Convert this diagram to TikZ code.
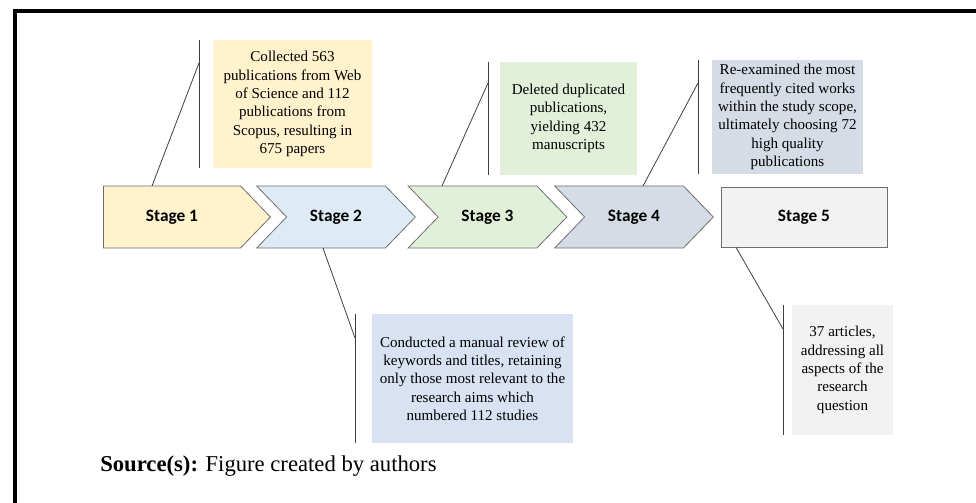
\documentclass[tikz,border=0pt]{standalone}
\usepackage{fontspec}
\setmainfont{Liberation Serif}
\newfontfamily\stagefont{Carlito}
\usepackage{tikz}
\usetikzlibrary{shapes.symbols,positioning}

\definecolor{yel}{HTML}{FFF2CC}
\definecolor{blu}{HTML}{DEEBF7}
\definecolor{bludark}{HTML}{D9E2F3}
\definecolor{grn}{HTML}{E2F0D9}
\definecolor{slt}{HTML}{D6DCE5}
\definecolor{gry}{HTML}{F2F2F2}
\definecolor{edge}{HTML}{6E6E6E}
\definecolor{lead}{HTML}{404040}

\begin{document}
\begin{tikzpicture}[x=0.75pt,y=-0.75pt,
  stage/.style={shape=signal, signal to=east, signal from=west, signal pointer angle=92,
    draw=edge, line width=0.6pt, minimum height=46.5pt, minimum width=119pt,
    inner sep=0pt, outer sep=0pt, font=\stagefont\bfseries\fontsize{13}{15}\selectfont},
  note/.style={inner sep=0pt, outer sep=0pt, align=center,
    font=\fontsize{11.3}{13.75}\selectfont},
  callout/.style={draw=lead, line width=0.6pt}]
\useasboundingbox (0,0) rectangle (976,503);
\draw[line width=3pt] (976,11) -- (15,11) -- (15,503);

% stages
\node[stage, signal from=nowhere, fill=yel, minimum width=125.25pt] at (172,217) (s1) {Stage 1};
\node[stage, fill=blu] at (336,217) (s2) {Stage 2};
\node[stage, fill=grn] at (487.5,217) (s3) {Stage 3};
\node[stage, fill=slt] at (634,217) (s4) {Stage 4};
\node[draw=edge, line width=0.6pt, fill=gry, minimum width=124.5pt, minimum height=45pt,
  inner sep=0pt, font=\stagefont\bfseries\fontsize{13}{15}\selectfont] at (804,217) (s5) {Stage 5};

% notes
\node[note, fill=yel, minimum width=119.25pt, minimum height=96pt] at (292.5,104) (b1)
  {Collected 563\\publications from Web\\of Science and 112\\publications from\\Scopus, resulting in\\675 papers};
\node[note, fill=bludark, minimum width=150.75pt, minimum height=96.75pt] at (472.5,378.5) (b2)
  {Conducted a manual review of\\keywords and titles, retaining\\only those most relevant to the\\research aims which\\numbered 112 studies};
\node[note, fill=grn, minimum width=102.75pt, minimum height=84.75pt] at (568.5,118.5) (b3)
  {Deleted duplicated\\publications,\\yielding 432\\manuscripts};
\node[note, fill=slt, minimum width=113.25pt, minimum height=85.5pt] at (787.5,117) (b4)
  {Re-examined the most\\frequently cited works\\within the study scope,\\ultimately choosing 72\\high quality\\publications};
\node[note, fill=gry, minimum width=75.75pt, minimum height=97.5pt] at (842.5,370) (b5)
  {37 articles,\\addressing all\\aspects of the\\research\\question};

% callouts
\coordinate (p1) at ([shift={(-20,0)}]s1.north);
\coordinate (p2) at ([shift={(-13,0)}]s2.south);
\coordinate (p3) at ([shift={(-45.5,0)}]s3.north);
\coordinate (p4) at ([shift={(9,0)}]s4.north);
\coordinate (p5) at ([shift={(-68,0)}]s5.south);

\draw[callout] ([shift={(-14,0)}]b1.north west) -- ([shift={(-14,0)}]b1.south west);
\draw[callout] ([shift={(-17,0)}]b2.north west) -- ([shift={(-17,0)}]b2.south west);
\draw[callout] ([shift={(-12,0)}]b3.north west) -- ([shift={(-12,0)}]b3.south west);
\draw[callout] ([shift={(-14,0)}]b4.north west) -- ([shift={(-14,0)}]b4.south west);
\draw[callout] ([shift={(-9,0)}]b5.north west) -- ([shift={(-9,0)}]b5.south west);

\draw[callout] (p1) -- ([shift={(-14,23)}]b1.north west);
\draw[callout] (p2) -- ([shift={(-17,24)}]b2.north west);
\draw[callout] (p3) -- ([shift={(-12,21)}]b3.north west);
\draw[callout] (p4) -- ([shift={(-14,23)}]b4.north west);
\draw[callout] (p5) -- ([shift={(-9,24)}]b5.north west);

% source line
\node[anchor=base west, inner sep=0pt, font=\fontsize{17}{20}\selectfont] at (100,471) (src)
  {\textbf{Source(s):} Figure created by authors};
\end{tikzpicture}
\end{document}
